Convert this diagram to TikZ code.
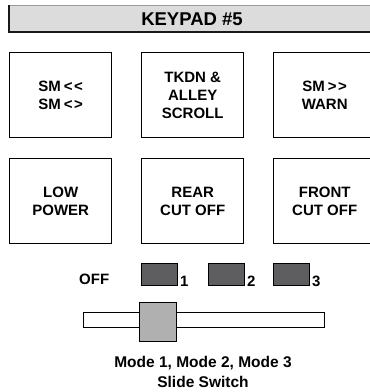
\documentclass[tikz,border=0pt]{standalone}
\usepackage{fontspec}
\setmainfont{Liberation Sans}
\definecolor{hdrfill}{HTML}{DCDCDD}
\definecolor{keydark}{HTML}{5E5E60}
\definecolor{knobfill}{HTML}{B0B0B0}
\begin{document}
\begin{tikzpicture}[x=1pt,y=-1pt,
  keybox/.style={draw=black,line width=1.4pt,fill=white,minimum width=102pt,minimum height=85pt,inner sep=0pt,align=center,font=\bfseries\fontsize{15}{18}\selectfont,anchor=north west},
  modekey/.style={draw=black,line width=1pt,fill=keydark,minimum width=36pt,minimum height=22pt,inner sep=0pt,anchor=north west},
  lbl/.style={font=\bfseries\fontsize{15}{18}\selectfont,inner sep=0pt,anchor=base west},
  captxt/.style={font=\bfseries\fontsize{15.5}{20}\selectfont,inner sep=0pt,anchor=base}]
\useasboundingbox (0,0) rectangle (370,392);
\clip (0,0) rectangle (370,392);
% header
\fill[hdrfill] (8,5) rectangle (376,32);
\draw[gray!80,line width=0.9pt] (8,5) -- (376,5);
\draw[black!90,line width=2.2pt] (9,5) -- (9,32) -- (376,32);
\node[font=\bfseries\fontsize{18.5}{20}\selectfont,inner sep=0pt] (hdr) at (192,19) {KEYPAD \#5};
% row 1
\node[keybox] (k1) at (9,52) {SM\kern3pt<\kern1.5pt<\\SM\kern3pt<\kern1.5pt>};
\node[keybox] (k2) at (141,52) {TKDN \&\\ALLEY\\SCROLL};
\node[keybox] (k3) at (273,52) {SM\kern3pt>\kern1.5pt>\\WARN};
% row 2
\node[keybox] (k4) at (9,158) {LOW\\POWER};
\node[keybox] (k5) at (141,158) {REAR\\CUT OFF};
\node[keybox] (k6) at (273,158) {FRONT\\CUT OFF};
% mode keys
\node[lbl] (off) at (79,284) {OFF};
\node[modekey] (m1) at (141,263) {};
\node[modekey] (m2) at (208,263) {};
\node[modekey] (m3) at (273,263) {};
\node[lbl] (l1) at (m1.south east) [xshift=2pt,yshift=-0.5pt] {1};
\node[lbl] (l2) at (m2.south east) [xshift=2pt,yshift=-0.5pt] {2};
\node[lbl] (l3) at (m3.south east) [xshift=2pt,yshift=-0.5pt] {3};
% slider
\node[draw=black,line width=1.2pt,fill=white,minimum width=241pt,minimum height=15pt,inner sep=0pt,anchor=north west] (track) at (83,312) {};
\node[draw=black,line width=1.2pt,fill=knobfill,minimum width=37pt,minimum height=39pt,inner sep=0pt,anchor=north west] (knob) at (139,302) {};
\node[captxt] (cap1) at (203,367) {Mode 1, Mode 2, Mode 3};
\node[captxt] (cap2) at (203,387) {Slide Switch};
\end{tikzpicture}
\end{document}
